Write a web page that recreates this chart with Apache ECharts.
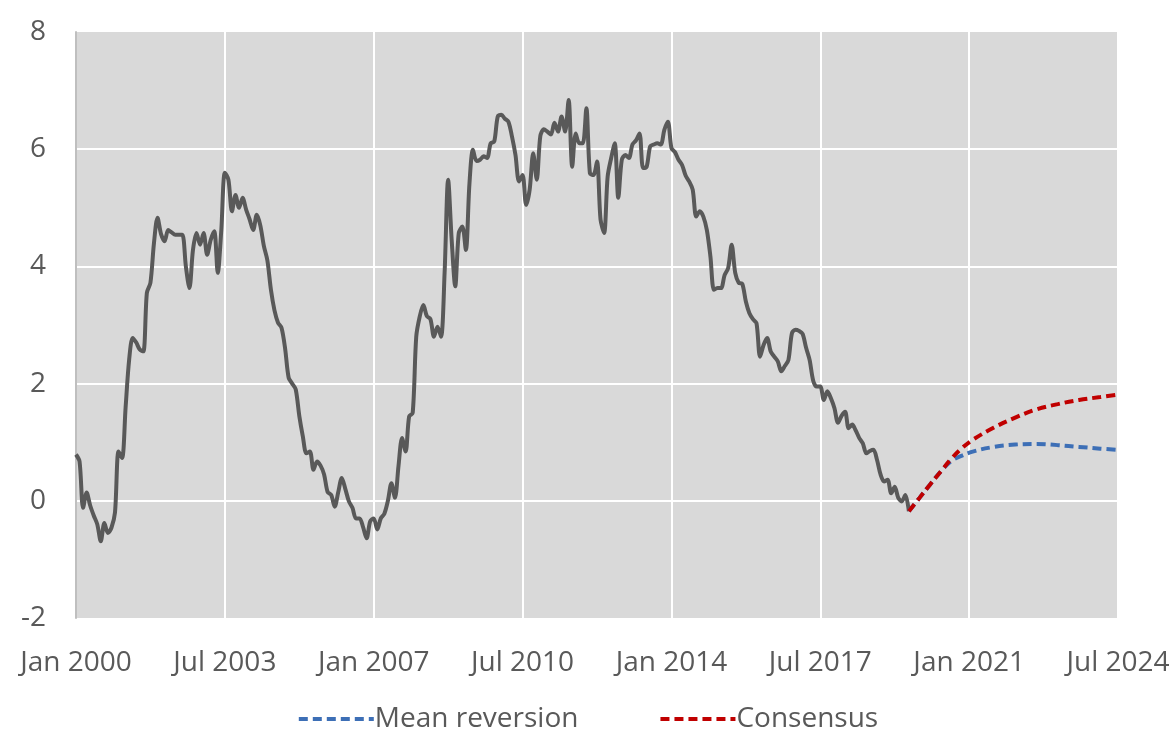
<!DOCTYPE html>
<html>
<head>
<meta charset="utf-8">
<script src="https://cdn.jsdelivr.net/npm/echarts@6/dist/echarts.min.js"></script>
<style>
html,body{margin:0;padding:0;background:#fff;}
#chart{width:1175px;height:732px;}
</style>
</head>
<body>
<div id="chart"></div>
<script>
// Monthly history, starting Jan 2000 (index = months since Jan 2000)
const history = [
0.79,0.67,-0.12,0.14,-0.08,-0.25,-0.40,-0.69,-0.38,-0.55,-0.46,-0.20,
0.84,0.73,1.60,2.41,2.78,2.70,2.58,2.55,3.55,3.72,4.40,4.83,
4.55,4.43,4.62,4.58,4.54,4.54,4.54,4.00,3.63,4.28,4.57,4.37,
4.57,4.20,4.45,4.60,3.89,4.62,5.60,5.48,4.94,5.22,5.00,5.17,
4.97,4.80,4.62,4.88,4.70,4.35,4.10,3.60,3.25,3.04,2.95,2.60,
2.10,2.00,1.90,1.45,1.10,0.81,0.84,0.53,0.67,0.60,0.45,0.15,
0.10,-0.10,0.15,0.39,0.20,-0.01,-0.12,-0.30,-0.30,-0.45,-0.64,-0.35,
-0.30,-0.49,-0.30,-0.22,0.00,0.30,0.05,0.60,1.07,0.84,1.44,1.50,
2.80,3.15,3.34,3.15,3.10,2.80,2.97,2.80,3.89,5.48,4.45,3.66,
4.57,4.68,4.28,5.40,5.99,5.80,5.82,5.88,5.85,6.10,6.13,6.56,
6.59,6.52,6.47,6.22,5.90,5.45,5.56,5.05,5.31,5.93,5.48,6.22,
6.34,6.30,6.25,6.45,6.30,6.56,6.30,6.84,5.70,6.27,6.10,6.10,
6.70,5.59,5.56,5.79,4.80,4.57,5.53,5.85,6.10,5.17,5.82,5.90,
5.85,6.08,6.15,6.27,5.68,5.70,6.05,6.08,6.10,6.08,6.33,6.47,
6.02,5.95,5.82,5.73,5.55,5.45,5.31,4.85,4.94,4.85,4.62,4.17,
3.60,3.63,3.63,3.85,3.97,4.37,3.89,3.72,3.70,3.40,3.20,3.10,
3.03,2.46,2.66,2.78,2.55,2.46,2.38,2.21,2.30,2.40,2.86,2.92,
2.90,2.85,2.61,2.40,2.05,1.95,1.95,1.72,1.87,1.75,1.58,1.33,
1.45,1.52,1.24,1.30,1.20,1.07,0.98,0.81,0.85,0.87,0.70,0.45,
0.33,0.36,0.13,0.24,0.05,-0.01,0.10,-0.18
];
// Forecast months (months since Jan 2000) and values
const forecastMonths = [235,238,241,244,247,250,253,259,265,271,277,283,289,294];
const meanReversion  = [-0.18,0.05,0.28,0.50,0.68,0.77,0.84,0.92,0.96,0.97,0.95,0.92,0.89,0.87];
const consensus      = [-0.18,0.05,0.28,0.50,0.72,0.90,1.04,1.25,1.42,1.56,1.65,1.72,1.77,1.81];
const tickLabels = ['Jan 2000','Jul 2003','Jan 2007','Jul 2010','Jan 2014','Jul 2017','Jan 2021','Jul 2024'];
const yTicks = [-2,0,2,4,6,8];

const FONT = '"Open Sans", "Noto Sans", sans-serif';
const histData = history.map((v,i)=>[i,v]);
const mrData = forecastMonths.map((m,i)=>[m,meanReversion[i]]);
const csData = forecastMonths.map((m,i)=>[m,consensus[i]]);

const chart = echarts.init(document.getElementById('chart'));
chart.setOption({
  animation:false,
  backgroundColor:'#ffffff',
  textStyle:{fontFamily:FONT},
  grid:{left:76,right:57,top:32,bottom:114,show:true,backgroundColor:'#d9d9d9',borderWidth:0},
  legend:{
    top:700,left:'center',itemWidth:75,itemHeight:14,itemGap:80,
    itemStyle:{opacity:0},
    lineStyle:{width:4},
    textStyle:{fontSize:28,color:'#595959',fontFamily:FONT,padding:[0,0,0,-4]},
    data:['Mean reversion','Consensus']
  },
  xAxis:{
    type:'value',min:0,max:294,interval:42,
    axisLine:{show:false},axisTick:{show:false},
    axisLabel:{fontSize:28,color:'#595959',margin:31,fontFamily:FONT,
      formatter:(v)=>tickLabels[Math.round(v/42)]},
    splitLine:{show:true,lineStyle:{color:'#ffffff',width:2}}
  },
  yAxis:{
    type:'value',min:yTicks[0],max:yTicks[yTicks.length-1],interval:2,
    axisLine:{show:true,lineStyle:{color:'#bfbfbf',width:2}},
    axisTick:{show:false},
    axisLabel:{fontSize:28,color:'#595959',margin:30,fontFamily:FONT},
    splitLine:{show:true,showMinLine:false,showMaxLine:false,lineStyle:{color:'#ffffff',width:2}}
  },
  series:[
    {name:'History',type:'line',data:histData,symbol:'none',smooth:0.3,
      lineStyle:{color:'#595959',width:4},z:3},
    {name:'Mean reversion',type:'line',data:mrData,symbol:'none',smooth:0.4,
      itemStyle:{color:'#3d6fb6'},
      lineStyle:{color:'#3d6fb6',width:4,type:[9,5]},z:4},
    {name:'Consensus',type:'line',data:csData,symbol:'none',smooth:0.4,
      itemStyle:{color:'#c00000'},
      lineStyle:{color:'#c00000',width:4,type:[9,5]},z:5}
  ]
});
</script>
</body>
</html>
